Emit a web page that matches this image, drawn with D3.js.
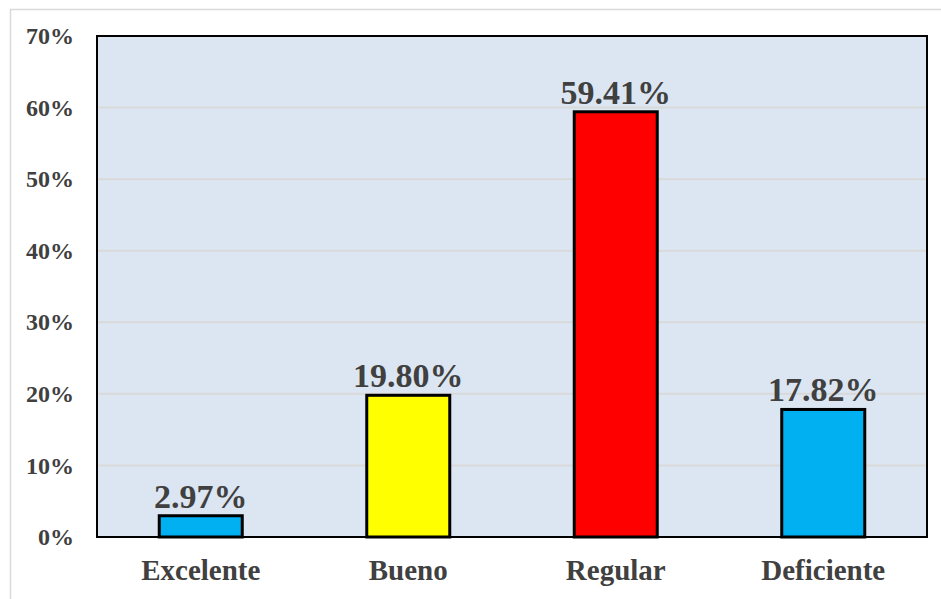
<!DOCTYPE html>
<html>
<head>
<meta charset="utf-8">
<script src="https://cdn.jsdelivr.net/npm/d3@7"></script>
<style>
  html, body { margin: 0; padding: 0; background: #fff; }
  svg { display: block; }
</style>
</head>
<body>
<div id="chart"></div>
<script>
// data
const categories = ["Excelente", "Bueno", "Regular", "Deficiente"];
const values = [2.97, 19.80, 59.41, 17.82];
const barColors = ["#00b0f0", "#ffff00", "#ff0000", "#00b0f0"];
const yTicks = [0, 10, 20, 30, 40, 50, 60, 70];

const width = 941;
const height = 599;
const margin = { top: 36, right: 14, bottom: 62, left: 97 };
const textColor = "#404040";
const font = "'Liberation Serif', 'Times New Roman', serif";

const svg = d3.select("#chart")
  .append("svg")
  .attr("width", width)
  .attr("height", height);

// outer chart frame
svg.append("rect")
  .attr("x", 10.5)
  .attr("y", 9.5)
  .attr("width", width)
  .attr("height", height)
  .attr("fill", "#fff")
  .attr("stroke", "#d9d9d9")
  .attr("stroke-width", 1.5);

const x = d3.scaleBand()
  .domain(categories)
  .range([margin.left, width - margin.right])
  .paddingInner(0.6)
  .paddingOuter(0.3);

const y = d3.scaleLinear()
  .domain([0, 70])
  .range([height - margin.bottom, margin.top]);

// plot background
svg.append("rect")
  .attr("x", margin.left)
  .attr("y", margin.top)
  .attr("width", width - margin.left - margin.right)
  .attr("height", y(0) - y(70))
  .attr("fill", "#dce6f2");

// gridlines
svg.append("g")
  .selectAll("line")
  .data(yTicks.slice(1, -1))
  .join("line")
  .attr("x1", margin.left)
  .attr("x2", width - margin.right)
  .attr("y1", d => y(d))
  .attr("y2", d => y(d))
  .attr("stroke", "#d9d9d9")
  .attr("stroke-width", 2);

// y axis labels
const yAxis = svg.append("g")
  .attr("transform", `translate(${margin.left},0)`)
  .call(d3.axisLeft(y).tickValues(yTicks).tickFormat(d => d + "%").tickSize(0).tickPadding(23));
yAxis.select(".domain").remove();
yAxis.selectAll("text")
  .attr("fill", textColor)
  .style("font-family", font)
  .style("font-weight", "bold")
  .style("font-size", "24px");

// x axis labels
const xAxis = svg.append("g")
  .attr("transform", `translate(0,${y(0)})`)
  .call(d3.axisBottom(x).tickSize(0).tickPadding(0));
xAxis.select(".domain").remove();
xAxis.selectAll("text")
  .attr("dy", null)
  .attr("y", 43)
  .attr("fill", textColor)
  .style("font-family", font)
  .style("font-weight", "bold")
  .style("font-size", "29px");

// bars
svg.append("g")
  .selectAll("rect")
  .data(values)
  .join("rect")
  .attr("x", (d, i) => x(categories[i]))
  .attr("y", d => y(d))
  .attr("width", x.bandwidth())
  .attr("height", d => y(0) - y(d))
  .attr("fill", (d, i) => barColors[i])
  .attr("stroke", "#000")
  .attr("stroke-width", 3);

// value labels
svg.append("g")
  .selectAll("text")
  .data(values)
  .join("text")
  .attr("x", (d, i) => x(categories[i]) + x.bandwidth() / 2)
  .attr("y", d => y(d) - 8)
  .attr("text-anchor", "middle")
  .attr("fill", textColor)
  .style("font-family", font)
  .style("font-weight", "bold")
  .style("font-size", "34px")
  .text(d => d.toFixed(2) + "%");

// plot border
svg.append("rect")
  .attr("x", margin.left)
  .attr("y", margin.top)
  .attr("width", width - margin.left - margin.right)
  .attr("height", y(0) - y(70))
  .attr("fill", "none")
  .attr("stroke", "#000")
  .attr("stroke-width", 2);
</script>
</body>
</html>
